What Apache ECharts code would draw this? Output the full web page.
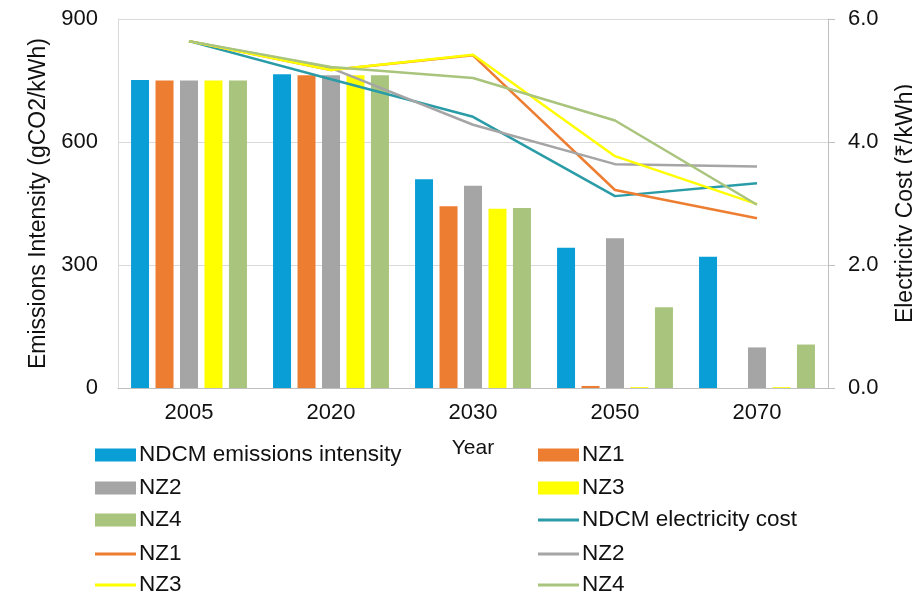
<!DOCTYPE html>
<html>
<head>
<meta charset="utf-8">
<script src="https://cdn.jsdelivr.net/npm/echarts@6/dist/echarts.min.js"></script>
<style>html,body{margin:0;padding:0;background:#fff}#c{width:912px;height:596px}</style>
</head>
<body>
<div id="c"></div>
<script>
const categories = ['2005', '2020', '2030', '2050', '2070'];
const leftTicks = [0, 300, 600, 900];
const rightTicks = [0, 2, 4, 6];

// Emissions intensity (bars, gCO2/kWh)
const ndcmIntensity = [751, 765, 509, 342, 320];
const nz1Intensity = [750, 763, 443, 5, 0];
const nz2Intensity = [750, 763, 493, 365, 99];
const nz3Intensity = [750, 763, 437, 2, 2];
const nz4Intensity = [750, 763, 439, 197, 106];

// Electricity cost (lines, ₹/kWh)
const ndcmCost = [5.64, 5.02, 4.41, 3.12, 3.33];
const nz1Cost = [5.64, 5.17, 5.41, 3.22, 2.76];
const nz2Cost = [5.64, 5.20, 4.28, 3.64, 3.60];
const nz3Cost = [5.64, 5.17, 5.42, 3.77, 2.99];
const nz4Cost = [5.64, 5.22, 5.04, 4.35, 2.98];

const C = {blue:'#0A9ED6', orange:'#ED7D31', grey:'#A5A5A5', yellow:'#FFFF00', green:'#A9C47C', teal:'#2A9CA7'};
const FONT = '"Liberation Sans", Arial, sans-serif';

const chart = echarts.init(document.getElementById('c'));
function bar(name, data, color){
  return {name, type:'bar', yAxisIndex:0, data, barWidth:18, barGap:'36%', itemStyle:{color}, z:2};
}
function line(name, data, color){
  return {name, type:'line', yAxisIndex:1, data, symbol:'none', showSymbol:false, lineStyle:{color, width:2.5}, itemStyle:{color}, z:3};
}
const ROWS = [455, 488, 520, 554, 585];
const LH = 24;
function leg(left, row, name, isLine){
  return {
    orient:'horizontal', left, top: ROWS[row] - LH/2, itemWidth:41, itemHeight: isLine ? 3 : 13,
    padding:0, icon:'rect', selectedMode:false,
    textStyle:{fontFamily:FONT, fontSize:22.5, color:'#111', lineHeight:LH, padding:[0,0,0,-2]},
    formatter: n => n.trim(), data: [name]
  };
}
chart.setOption({
  animation:false,
  grid:{left:118, right:84, top:19, bottom:208, outerBoundsMode:'none', containLabel:false},
  legend:[
    leg(95, 0, 'NDCM emissions intensity', false),
    leg(95, 1, 'NZ2 ', false),
    leg(95, 2, 'NZ4 ', false),
    leg(95, 3, 'NZ1', true),
    leg(95, 4, 'NZ3', true),
    leg(538, 0, 'NZ1 ', false),
    leg(538, 1, 'NZ3 ', false),
    leg(538, 2, 'NDCM electricity cost', true),
    leg(538, 3, 'NZ2', true),
    leg(538, 4, 'NZ4', true)
  ],
  xAxis:{type:'category', data:categories,
    name:'Year', nameLocation:'middle', nameGap:50,
    nameTextStyle:{fontFamily:FONT, fontSize:21, color:'#111'},
    axisLine:{lineStyle:{color:'#BFBFBF', width:1}}, axisTick:{show:false},
    axisLabel:{fontFamily:FONT, fontSize:22, color:'#111', margin:14}},
  yAxis:[
    {type:'value', min:0, max:900, interval:300,
     name:'Emissions Intensity (gCO2/kWh)', nameLocation:'middle', nameGap:61, nameRotate:90,
     nameTextStyle:{fontFamily:FONT, fontSize:23, color:'#111'},
     axisLine:{show:true, lineStyle:{color:'#D9D9D9'}}, axisTick:{show:false},
     splitLine:{lineStyle:{color:'#D9D9D9'}},
     axisLabel:{fontFamily:FONT, fontSize:22, color:'#111', margin:20,
       formatter: v => leftTicks.includes(v) ? String(v) : ''}},
    {type:'value', min:0, max:6, interval:2, position:'right',
     name:'Electricity Cost (₹/kWh)', nameLocation:'middle', nameGap:66, nameRotate:90,
     nameTextStyle:{fontFamily:FONT, fontSize:23, color:'#111'},
     axisLine:{show:true, lineStyle:{color:'#BFBFBF'}}, axisTick:{show:true, length:7, inside:false, lineStyle:{color:'#BFBFBF'}},
     splitLine:{show:false},
     axisLabel:{fontFamily:FONT, fontSize:22, color:'#111', margin:20,
       formatter: v => rightTicks.includes(v) ? v.toFixed(1) : ''}}
  ],
  series:[
    bar('NDCM emissions intensity', ndcmIntensity, C.blue),
    bar('NZ1 ', nz1Intensity, C.orange),
    bar('NZ2 ', nz2Intensity, C.grey),
    bar('NZ3 ', nz3Intensity, C.yellow),
    bar('NZ4 ', nz4Intensity, C.green),
    line('NDCM electricity cost', ndcmCost, C.teal),
    line('NZ1', nz1Cost, C.orange),
    line('NZ2', nz2Cost, C.grey),
    line('NZ3', nz3Cost, C.yellow),
    line('NZ4', nz4Cost, C.green)
  ]
});
</script>
</body>
</html>
